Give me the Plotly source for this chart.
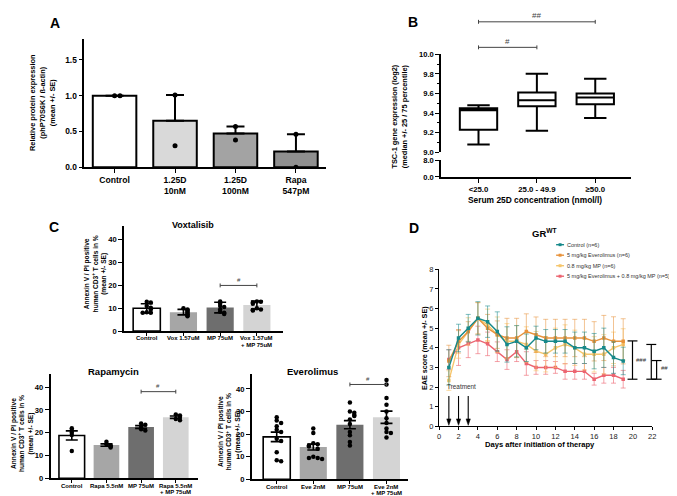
import plotly.graph_objects as go

W, H = 677, 496
FONT = "Liberation Sans, Arial, sans-serif"

# ====================== DATA ======================
# Panel A
a_categories = ["Control", "1.25D<br>10nM", "1.25D<br>100nM", "Rapa<br>547pM"]
a_means = [1.0, 0.65, 0.47, 0.22]
a_se = [0.0, 0.36, 0.10, 0.24]
a_points = [[1.0, 1.0], [1.01, 0.30], [0.57, 0.38], [0.46, 0.0]]

# Panel B (box summary)
b_categories = ["<25.0", "25.0 - 49.9", "≥50.0"]
b_min = [9.08, 9.22, 9.35]
b_q1 = [9.23, 9.47, 9.49]
b_median = [9.43, 9.53, 9.56]
b_q3 = [9.45, 9.61, 9.60]
b_max = [9.48, 9.80, 9.75]

# Panel C - Voxtalisib
vox_categories = ["Control", "Vox 1.57uM", "MP 75uM", "Vox 1.57uM<br>+ MP 75uM"]
vox_means = [10.0, 8.3, 10.3, 11.4]
vox_se = [2.0, 1.2, 2.3, 1.8]
vox_points = [[12.8, 12.5, 11.0, 10.2, 9.5, 8.2, 8.0, 8.0],
              [10.0, 9.5, 9.0, 8.5, 8.0, 7.5, 7.0, 6.5],
              [13.0, 12.0, 11.0, 10.5, 9.5, 8.5, 8.0, 7.5],
              [13.0, 12.8, 12.5, 12.0, 10.0, 9.5, 9.2, 9.0]]

# Panel C - Rapamycin
rapa_categories = ["Control", "Rapa 5.5nM", "MP 75uM", "Rapa 5.5nM<br>+ MP 75uM"]
rapa_means = [18.8, 14.6, 22.5, 26.8]
rapa_se = [2.0, 0.5, 0.6, 0.5]
rapa_points = [[22.0, 21.0, 20.0, 19.0, 12.0],
               [16.0, 15.0, 14.5, 14.0, 13.5],
               [24.0, 23.5, 22.5, 21.5, 21.0],
               [28.0, 27.5, 27.0, 26.0, 25.5]]

# Panel C - Everolimus
eve_categories = ["Control", "Eve 2nM", "MP 75uM", "Eve 2nM<br>+ MP 75uM"]
eve_means = [18.8, 14.3, 24.2, 27.5]
eve_se = [2.1, 1.3, 1.8, 2.7]
eve_points = [[27.5, 26.0, 25.0, 23.5, 22.0, 21.0, 18.0, 17.0, 12.0, 8.5, 8.0],
              [22.5, 20.5, 16.0, 15.5, 15.0, 14.5, 13.5, 10.0, 9.5, 9.5, 9.0],
              [34.0, 30.0, 29.5, 28.5, 28.0, 26.5, 24.5, 21.0, 19.5, 16.5, 15.0],
              [44.0, 42.0, 36.0, 33.0, 30.0, 27.0, 25.0, 22.5, 21.0, 20.5, 18.5]]

# Panel D
d_days = list(range(1, 20))
d_names = ["Control (n=6)", "5 mg/kg Everolimus (n=6)", "0.8 mg/kg MP (n=6)",
           "5 mg/kg Everolimus + 0.8 mg/kg MP (n=5)"]
d_control = [3.0, 4.5, 5.0, 5.5, 5.33, 4.83, 4.17, 4.33, 4.0, 4.5, 4.33, 4.33, 4.33, 4.0, 4.0, 3.83, 4.0, 3.5, 3.33]
d_control_se = [0.9, 0.7, 0.7, 0.85, 0.8, 1.0, 0.9, 0.8, 0.7, 0.6, 0.6, 0.6, 0.6, 0.8, 0.8, 0.9, 1.0, 0.8, 0.7]
d_eve = [3.33, 4.33, 4.83, 5.5, 5.0, 4.67, 4.5, 4.5, 4.83, 4.67, 4.5, 4.5, 4.5, 4.5, 4.5, 4.33, 4.5, 4.33, 4.33]
d_eve_se = [0.8, 0.6, 0.5, 0.8, 0.7, 0.7, 1.0, 1.0, 0.9, 0.9, 0.95, 0.95, 0.95, 0.95, 0.95, 1.0, 1.15, 1.25, 1.15]
d_mp = [2.33, 4.17, 4.83, 5.5, 5.17, 4.67, 4.33, 4.33, 4.17, 3.83, 3.67, 4.0, 4.17, 4.0, 3.67, 3.67, 3.67, 4.0, 4.17]
d_mp_se = [0.5, 0.7, 0.7, 0.8, 0.8, 0.9, 0.9, 0.8, 0.9, 1.0, 0.9, 1.0, 1.0, 0.9, 0.8, 0.9, 1.0, 0.8, 0.8]
d_combo = [3.4, 4.0, 4.2, 4.4, 4.2, 3.8, 3.4, 3.8, 3.2, 3.0, 3.0, 3.0, 2.8, 2.8, 2.8, 2.4, 2.6, 2.6, 2.4]
d_combo_se = [0.5, 0.9, 0.7, 0.7, 0.6, 0.5, 0.5, 0.5, 0.6, 0.35, 0.35, 0.3, 0.4, 0.4, 0.4, 0.3, 0.4, 0.4, 0.45]
treatment_days = [1, 2, 3]

# ====================== LAYOUT GEOMETRY (pixels) ======================
AX = {
    "A":  dict(x=(75, 319), y=(27, 158), xr=(-0.5, 3.5), yr=(0, 1.8)),
    "Bu": dict(x=(435, 627), y=(43, 143), xr=(-0.64, 2.62), yr=(9.0, 10.0)),
    "Bl": dict(x=(435, 627), y=(151, 168), xr=(-0.64, 2.62), yr=(0, 8)),
    "CV": dict(x=(115, 275), y=(218, 325), xr=(-0.62, 3.7), yr=(0, 46)),
    "CR": dict(x=(41, 190), y=(369, 475), xr=(-0.61, 3.65), yr=(0, 45.6)),
    "CE": dict(x=(244, 402), y=(369, 476), xr=(-0.68, 3.6), yr=(0, 46.5)),
    "D":  dict(x=(433, 648), y=(262, 422), xr=(0, 22), yr=(0, 8)),
}


def xdom(k):
    a, b = AX[k]["x"]
    return [a / W, b / W]


def ydom(k):
    t, b = AX[k]["y"]
    return [1 - b / H, 1 - t / H]


def px_x(k, v):
    s = AX[k]
    return s["x"][0] + (v - s["xr"][0]) / (s["xr"][1] - s["xr"][0]) * (s["x"][1] - s["x"][0])


def px_y(k, v):
    s = AX[k]
    return s["y"][1] - (v - s["yr"][0]) / (s["yr"][1] - s["yr"][0]) * (s["y"][1] - s["y"][0])


def PX(px):
    return px / W


def PY(py):
    return 1 - py / H


def spread(vals, tol, step):
    offs = []
    for i, v in enumerate(vals):
        k = sum(1 for w in vals[:i] if abs(w - v) < tol)
        sign = 1 if k % 2 else -1
        offs.append(sign * ((k + 1) // 2) * step)
    return offs


fig = go.Figure()
shapes = []
annotations = []


def ann(x, y, text, size=8, bold=True, angle=0, xanchor="center", yanchor="middle", color="black"):
    annotations.append(dict(x=PX(x), y=PY(y), xref="paper", yref="paper", text=text, showarrow=False,
                            textangle=angle, xanchor=xanchor, yanchor=yanchor, borderpad=0,
                            font=dict(family=FONT, size=size, color=color,
                                      weight="bold" if bold else "normal")))


def line(x0, y0, x1, y1, color="black", width=1.2):
    shapes.append(dict(type="line", xref="paper", yref="paper", x0=PX(x0), y0=PY(y0), x1=PX(x1),
                       y1=PY(y1), line=dict(color=color, width=width)))


def sig_bar(k, c0, c1, yv, text, size=7):
    x0, x1, yp = px_x(k, c0), px_x(k, c1), px_y(k, yv)
    line(x0, yp, x1, yp, color="#444", width=1)
    line(x0, yp - 2, x0, yp + 2, color="#444", width=1)
    line(x1, yp - 2, x1, yp + 2, color="#444", width=1)
    ann((x0 + x1) / 2, yp - 6, text, size=size, bold=False, color="#444")


def axis(k, anchor, **kw):
    d = dict(anchor=anchor, showline=True, linecolor="black", linewidth=1.6,
             ticks="outside", ticklen=4, tickwidth=1.4, tickcolor="black", showgrid=False,
             zeroline=False, fixedrange=True)
    d.update(kw)
    return d


# ---------------- Panel A ----------------
a_x = list(range(len(a_categories)))
fig.add_trace(go.Bar(x=a_x, y=a_means, width=0.72, xaxis="x", yaxis="y",
                     marker=dict(color=["white", "#d9d9d9", "#a3a3a3", "#8f8f8f"],
                                 line=dict(color="black", width=2)),
                     error_y=dict(type="data", array=a_se, arrayminus=[0] * 4, color="black",
                                  thickness=2, width=9)))
for i, pts in enumerate(a_points):
    offs = spread(pts, 0.03, 0.09)
    fig.add_trace(go.Scatter(x=[i + o for o in offs], y=pts, mode="markers", xaxis="x", yaxis="y",
                             marker=dict(color="black", size=5)))

# ---------------- Panel B ----------------
b_x = list(range(len(b_categories)))
fig.add_trace(go.Box(x=b_x, q1=b_q1, median=b_median, q3=b_q3, lowerfence=b_min, upperfence=b_max,
                     xaxis="x2", yaxis="y2", fillcolor="white", line=dict(color="black", width=2),
                     width=0.64, whiskerwidth=0.6, boxpoints=False))
# invisible trace so the lower (broken) axis segment is drawn
fig.add_trace(go.Scatter(x=[b_x[0]], y=[b_min[0]], xaxis="x2", yaxis="y3", mode="markers",
                         marker=dict(opacity=0), hoverinfo="skip"))

# ---------------- Panel C ----------------
c_fill = ["white", "#a6a6a6", "#6e6e6e", "#d4d4d4"]
c_lw = [1.6, 0, 0, 0]
for key, xa, ya, means, se, pts_all, tol, step in [
        ("CV", "x3", "y4", vox_means, vox_se, vox_points, 1.0, 0.11),
        ("CR", "x4", "y5", rapa_means, rapa_se, rapa_points, 1.0, 0.12),
        ("CE", "x5", "y6", eve_means, eve_se, eve_points, 1.2, 0.12)]:
    cx = list(range(4))
    fig.add_trace(go.Bar(x=cx, y=means, width=0.74, xaxis=xa, yaxis=ya,
                         marker=dict(color=c_fill, line=dict(color="black", width=c_lw)),
                         error_y=dict(type="data", array=se, color="black", thickness=1.6, width=6)))
    for i, pts in enumerate(pts_all):
        offs = spread(pts, tol, step)
        fig.add_trace(go.Scatter(x=[i + o for o in offs], y=pts, mode="markers", xaxis=xa, yaxis=ya,
                                 marker=dict(color="black", size=4.5)))

# ---------------- Panel D ----------------
d_colors = ["#16898a", "#e8923a", "#f6c66c", "#ec6470"]
d_err_colors = ["rgba(22,137,138,0.55)", "rgba(232,146,58,0.55)", "rgba(246,198,108,0.6)",
                "rgba(236,100,112,0.6)"]
d_series = [(d_control, d_control_se), (d_eve, d_eve_se), (d_mp, d_mp_se), (d_combo, d_combo_se)]
for idx in [3, 2, 1, 0]:
    vals, se = d_series[idx]
    fig.add_trace(go.Scatter(x=d_days, y=vals, mode="lines+markers", xaxis="x6", yaxis="y7",
                             line=dict(color=d_colors[idx], width=1.4),
                             marker=dict(color=d_colors[idx], size=3.5, symbol="square"),
                             error_y=dict(type="data", array=se, color=d_err_colors[idx],
                                          thickness=1, width=2.5)))

# ---------------- Axes ----------------
lay = {}
tf_b = lambda s: dict(family=FONT, size=s, color="black", weight="bold")
lay["xaxis"] = axis("A", "y", domain=xdom("A"), range=AX["A"]["xr"], tickvals=a_x,
                    ticktext=a_categories, tickfont=tf_b(8.6))
lay["yaxis"] = axis("A", "x", domain=ydom("A"), range=AX["A"]["yr"], tickvals=[0, 0.5, 1.0, 1.5],
                    tickformat=".1f", tickfont=tf_b(8.4))
lay["xaxis2"] = axis("Bu", "y3", domain=xdom("Bu"), range=AX["Bu"]["xr"], tickvals=b_x,
                     ticktext=b_categories, tickfont=tf_b(7.8))
lay["yaxis2"] = axis("Bu", "x2", domain=ydom("Bu"), range=AX["Bu"]["yr"],
                     tickvals=[9.0, 9.2, 9.4, 9.6, 9.8, 10.0], tickformat=".1f", tickfont=tf_b(7.6),
                     minor=dict(dtick=0.1, ticks="outside", ticklen=2.5, tickcolor="black", tickwidth=1.2))
lay["yaxis3"] = axis("Bl", "x2", domain=ydom("Bl"), range=AX["Bl"]["yr"], tickvals=[0, 8],
                     tickformat=".1f", tickfont=tf_b(7.6))
for xk, yk, key, cats, ya in [("xaxis3", "yaxis4", "CV", vox_categories, "y4"),
                              ("xaxis4", "yaxis5", "CR", rapa_categories, "y5"),
                              ("xaxis5", "yaxis6", "CE", eve_categories, "y6")]:
    xa = "x" + xk.replace("xaxis", "")
    lay[xk] = axis(key, ya, domain=xdom(key), range=AX[key]["xr"], tickvals=list(range(4)),
                   showticklabels=False, ticklen=3)
    lay[yk] = axis(key, xa, domain=ydom(key), range=AX[key]["yr"], tickvals=[0, 10, 20, 30, 40],
                   tickfont=tf_b(7.6))
    for i, c in enumerate(cats):
        for j, part in enumerate(c.split("<br>")):
            ann(px_x(key, i), AX[key]["y"][1] + 7.5 + 6.8 * j, part, size=6.0)
tf_n = dict(family=FONT, size=7.5, color="#222")
lay["xaxis6"] = axis("D", "y7", domain=xdom("D"), range=AX["D"]["xr"], dtick=2, tick0=0,
                     tickfont=tf_n, linewidth=1.3, ticklen=3, tickwidth=1)
lay["yaxis7"] = axis("D", "x6", domain=ydom("D"), range=AX["D"]["yr"], dtick=1, tick0=0,
                     tickfont=tf_n, linewidth=1.3, ticklen=3, tickwidth=1)

# ---------------- Texts ----------------
ann(45, 11, "A", size=14)
ann(407, 10, "B", size=14)
ann(44, 219, "C", size=14)
ann(408, 220, "D", size=14)

ann(33, 92, "Relative protein expression<br>(phP70S6K / ß-actin)<br>(mean +/- SE)", size=7.4, angle=-90)
ann(393, 107, "TSC-1 gene expression (log2)<br>(median +/- 25 / 75 percentile)", size=7.4, angle=-90)
ann(530, 191, "Serum 25D concentration (nmol/l)", size=8.4)
ctitle = "Annexin V / PI positive<br>human CD3<sup>+</sup> T cells in %<br>(mean +/- SE)"
ann(86, 267, ctitle, size=6.6, angle=-90)
ann(12, 429, ctitle, size=6.6, angle=-90)
ann(221, 428, ctitle, size=6.6, angle=-90)
ann(185, 217, "Voxtalisib", size=9)
ann(104, 366, "Rapamycin", size=9.5)
ann(305, 366, "Everolimus", size=9.5)

ann(539, 225, "GR<sup>WT</sup>", size=9.5)
ann(418, 342, "EAE score (mean +/- SE)", size=7.2, angle=-90)
ann(535, 441, "Days after initiation of therapy", size=7.6)

# significance bars
sig_bar("Bu", 0, 1, 10.07, "#", size=8)
sig_bar("Bu", 0, 2, 10.33, "##", size=8)
sig_bar("CV", 2, 3, 20.0, "#", size=6)
sig_bar("CR", 2, 3, 38.0, "#", size=6)
sig_bar("CE", 2, 3, 42.0, "#", size=6)

# D legend (manual)
for i, (name, col) in enumerate(zip(d_names, d_colors)):
    yy = 237 + i * 10.7
    line(551, yy, 559, yy, color=col, width=1.4)
    shapes.append(dict(type="rect", xref="paper", yref="paper", x0=PX(553.5), x1=PX(556.5),
                       y0=PY(yy + 1.5), y1=PY(yy - 1.5), fillcolor=col, line=dict(width=0)))
    ann(561, yy, name, size=5.5, bold=False, xanchor="left", color="#333")

# D treatment arrows (shapes in data coords)
for dday in treatment_days:
    shapes.append(dict(type="line", xref="x6", yref="y7", x0=dday, x1=dday, y0=1.55, y1=0.3,
                       line=dict(color="black", width=1.1)))
    shapes.append(dict(type="path", xref="x6", yref="y7",
                       path=f"M {dday - 0.22} 0.38 L {dday + 0.22} 0.38 L {dday} 0.05 Z",
                       fillcolor="black", line=dict(color="black", width=0.5)))
annotations.append(dict(x=2.3, y=2.05, xref="x6", yref="y7", text="Treatment", showarrow=False,
                        font=dict(family=FONT, size=6.4, color="#333")))

# D significance brackets
for xv, ytop, ybot in [(19.96, 4.35, 2.4), (21.9, 4.17, 2.4), (22.45, 3.35, 2.4)]:
    xp = px_x("D", xv)
    yt, yb = px_y("D", ytop), px_y("D", ybot)
    line(xp, yt, xp, yb, width=1.2)
    line(xp - 5, yt, xp + 5, yt, width=1.2)
    line(xp - 5, yb, xp + 5, yb, width=1.2)
ann(px_x("D", 20.85), px_y("D", 3.4), "###", size=6, bold=False, color="#333")
ann(px_x("D", 23.25), px_y("D", 2.95), "##", size=6, bold=False, color="#333")

fig.update_layout(
    width=W, height=H, margin=dict(l=0, r=0, t=0, b=0), showlegend=False,
    paper_bgcolor="white", plot_bgcolor="white", font=dict(family=FONT, color="black"),
    shapes=shapes, annotations=annotations, barmode="overlay", **lay)

fig.write_html("out.html")
